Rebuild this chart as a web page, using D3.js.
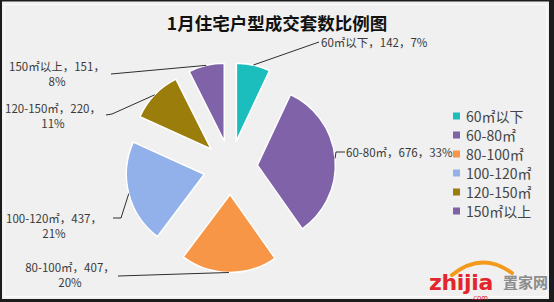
<!DOCTYPE html>
<html><head><meta charset="utf-8">
<script src="https://cdn.jsdelivr.net/npm/d3@7"></script>
<style>html,body{margin:0;padding:0;background:#fff;overflow:hidden}</style>
</head><body><svg id="chart" width="554" height="302"></svg>
<script>
// Unit mix of residential sales, January
const chartTitle = "1月住宅户型成交套数比例图";
const categories = ["60㎡以下", "60-80㎡", "80-100㎡", "100-120㎡", "120-150㎡", "150㎡以上"];
const counts = [142, 676, 407, 437, 220, 151];
const shareLabels = ["7%", "33%", "20%", "21%", "11%", "8%"];
const sliceColors = ["#1bbdbd", "#7f62a7", "#f79646", "#92b1ea", "#9a7d0a", "#7f62a7"];

const W = 554, H = 302;
const cx = 230.5, cy = 167.5, R = 78, explode = 27;
const labelFont = "'Noto Sans CJK SC', sans-serif";
const textColor = "#3a3a3a";

const svg = d3.select("#chart");

// frame and background
svg.append("rect").attr("width", W).attr("height", H).attr("fill", "#1c1c1c");
svg.append("rect").attr("x", 2).attr("y", 1.5).attr("width", 547).attr("height", 297.5).attr("fill", "#f0f0f0");
svg.append("rect").attr("x", 4.5).attr("y", 4.5).attr("width", 542).attr("height", 292)
  .attr("fill", "none").attr("stroke", "#fbfbfb").attr("stroke-width", 1);

// title
svg.append("text").attr("x", 277).attr("y", 22).attr("text-anchor", "middle")
  .attr("dominant-baseline", "central")
  .style("font-family", labelFont).style("font-weight", 700).style("font-size", "17.5px")
  .attr("fill", "#111").text(chartTitle);

// exploded pie
const arcs = d3.pie().sort(null).value(d => d)(counts);
const arcGen = d3.arc().innerRadius(0).outerRadius(R);
const mid = a => (a.startAngle + a.endAngle) / 2;
const sliceOrigin = a => [cx + explode * Math.sin(mid(a)), cy - explode * Math.cos(mid(a))];
const outerPoint = a => {
  const [ox, oy] = sliceOrigin(a);
  return [ox + R * Math.sin(mid(a)), oy - R * Math.cos(mid(a))];
};

svg.append("g").selectAll("path").data(arcs).join("path")
  .attr("transform", a => `translate(${sliceOrigin(a)})`)
  .attr("d", arcGen)
  .attr("fill", (a, i) => sliceColors[i])
  .attr("stroke", "#ffffff").attr("stroke-width", 1.5).attr("stroke-linejoin", "round");

// data label placement: leader bends and text anchors
const labelLayout = [
  { bends: [[319, 42]], x: 321, y: 42, anchor: "start", lines: 1 },
  { bends: [[336, 152], [345, 152]], x: 346, y: 152, anchor: "start", lines: 1 },
  { bends: [[118, 276]], x: 70, y: 267, anchor: "middle", lines: 2 },
  { bends: [[121, 218], [113, 218]], x: 54, y: 218, anchor: "middle", lines: 2 },
  { bends: [[112, 114], [106, 115]], x: 53, y: 108, anchor: "middle", lines: 2 },
  { bends: [[111, 74]], x: 57, y: 66, anchor: "middle", lines: 2 }
];

const line = d3.line();
const leaders = svg.append("g");
const labels = svg.append("g").style("font-family", labelFont).style("font-size", "11.5px").attr("fill", textColor);

arcs.forEach((a, i) => {
  const L = labelLayout[i];
  leaders.append("path").attr("d", line([outerPoint(a), ...L.bends]))
    .attr("fill", "none").attr("stroke", "#2e2e2e").attr("stroke-width", 1);
  const t = labels.append("text").attr("text-anchor", L.anchor);
  if (L.lines === 1) {
    t.append("tspan").attr("x", L.x).attr("y", L.y).attr("dominant-baseline", "central")
      .text(`${categories[i]}，${counts[i]}，${shareLabels[i]}`);
  } else {
    t.append("tspan").attr("x", L.x).attr("y", L.y).attr("dominant-baseline", "central")
      .text(`${categories[i]}，${counts[i]}，`);
    t.append("tspan").attr("x", L.x).attr("y", L.y + 15).attr("dominant-baseline", "central")
      .text(shareLabels[i]);
  }
});

// legend
const legendY = d3.scalePoint().domain(categories).range([116, 211]);
const legend = svg.append("g");
categories.forEach((c, i) => {
  legend.append("rect").attr("x", 453).attr("y", legendY(c) - 3.5).attr("width", 7).attr("height", 7)
    .attr("fill", sliceColors[i]);
  legend.append("text").attr("x", 466).attr("y", legendY(c)).attr("dominant-baseline", "central")
    .style("font-family", labelFont).style("font-size", "14px").attr("fill", "#444").text(c);
});

// site mark
const mark = svg.append("g");
mark.append("path").attr("d", "M452,275 Q482,251 512,273").attr("fill", "none")
  .attr("stroke", "#f39a1c").attr("stroke-width", 4).attr("stroke-linecap", "round");
mark.append("text").attr("x", 429).attr("y", 290)
  .style("font-family", "'DejaVu Sans', sans-serif").style("font-weight", 700).style("font-size", "22px")
  .attr("fill", "#e3262c").attr("letter-spacing", "-0.3").text("zhijia");
mark.append("text").attr("x", 503).attr("y", 288)
  .style("font-family", labelFont).style("font-weight", 700).style("font-size", "15px")
  .attr("fill", "#8c8c8c").text("置家网");
mark.append("text").attr("x", 471).attr("y", 299.5)
  .style("font-family", "'DejaVu Sans', sans-serif").style("font-size", "7px")
  .attr("fill", "#e3262c").text(".com");
</script></body></html>
